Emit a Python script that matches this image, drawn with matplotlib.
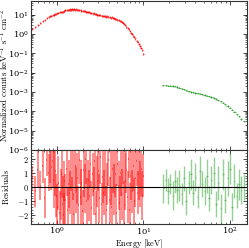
import numpy as np
import matplotlib
matplotlib.use('Agg')
import matplotlib.pyplot as plt

plt.rcParams['mathtext.fontset'] = 'cm'
plt.rcParams['font.family'] = 'serif'

# Espectro rojo (0.5-10 keV)
red_E = [0.52, 0.56, 0.60, 0.64, 0.68, 0.72, 0.76, 0.80, 0.83, 0.86, 0.89, 0.92, 0.95, 0.98,
         1.01, 1.04, 1.07, 1.10, 1.13, 1.16, 1.19, 1.22, 1.25, 1.29, 1.33, 1.37, 1.41, 1.45, 1.49,
         1.53, 1.57, 1.62, 1.67, 1.72, 1.77, 1.82, 1.87, 1.92, 1.98, 2.04, 2.10, 2.16, 2.22, 2.29,
         2.36, 2.43, 2.50, 2.58, 2.66, 2.74, 2.82, 2.91, 3.00, 3.09, 3.18, 3.28, 3.38, 3.48, 3.59,
         3.70, 3.81, 3.93, 4.05, 4.17, 4.30, 4.43, 4.57, 4.71, 4.85, 5.00, 5.15, 5.31, 5.47, 5.64,
         5.81, 5.99, 6.17, 6.36, 6.55, 6.75, 6.96, 7.17, 7.39, 7.62, 7.85, 8.09, 8.34, 8.60, 8.86,
         9.13, 9.41, 9.70, 9.95]
red_flux = [1.75, 2.3, 2.9, 3.6, 4.5, 5.3, 6.4, 7.2, 8.1, 8.6, 9.6, 9.8, 10.9, 11.1,
            11.9, 12.2, 13.3, 13.4, 14.3, 14.2, 15.4, 15.1, 16.3, 16.5, 17.4, 17.0, 18.3, 17.8, 18.8,
            18.2, 18.9, 18.1, 18.6, 17.4, 17.9, 16.6, 17.0, 15.8, 16.0, 14.9, 15.0, 13.8, 14.0, 13.0,
            13.1, 12.2, 12.3, 11.3, 11.4, 10.5, 10.6, 9.8, 10.0, 9.2, 9.4, 8.7, 8.9, 8.2, 8.4,
            7.8, 8.0, 7.4, 7.5, 6.9, 7.1, 6.5, 6.6, 6.0, 6.0, 5.4, 5.3, 4.8, 4.6, 4.0,
            3.8, 3.2, 2.9, 2.4, 2.0, 1.7, 1.4, 1.15, 0.95, 0.82, 0.66, 0.58, 0.45, 0.40, 0.30,
            0.25, 0.18, 0.14, 0.095]
red_res = [0.6, -0.3, 1.2, 0.1, 1.5, -0.8, 1.9, 1.0, 2.2, 1.4, 1.8, 0.5, 1.1, -0.6,
           -1.4, 0.3, -1.8, -0.5, 0.9, -1.2, -2.0, 0.4, -0.9, 1.3, -1.6, 0.2, -0.4, 1.7, -1.1,
           0.8, -1.9, 1.5, -0.2, 0.6, -1.3, 1.9, -0.7, 0.3, -1.7, 1.2, -0.1, 2.0, -1.0, 0.5,
           -0.6, 1.6, -1.5, 0.9, -0.3, 1.8, -1.9, 0.4, 1.1, -0.8, 2.1, -1.2, 0.7, -0.4, 1.4,
           -1.6, 0.2, 1.9, -0.9, 0.6, -1.4, 1.3, -0.2, 0.9, -1.8, 1.6, 0.1, -1.1, 1.0, -0.5,
           1.7, -1.3, 0.4, 1.2, -0.7, 2.0, -1.6, 0.8, -0.3, 1.5, -1.0, 0.6, 1.8, -0.4, 0.9,
           0.2, 1.3, -0.6, 0.8]
red_res_err = [0.9, 1.1, 1.3, 1.0, 1.2, 1.4, 1.1, 1.3, 1.9, 1.6, 1.8, 2.0, 1.7, 1.5,
               1.6, 1.9, 1.5, 1.8, 1.7, 2.0, 1.6, 1.4, 1.8, 1.9, 1.6, 1.7, 1.5, 2.0, 1.8,
               1.7, 1.5, 1.9, 1.6, 1.8, 1.4, 1.7, 2.0, 1.6, 1.5, 1.9, 1.7, 1.8, 1.6, 1.4,
               1.8, 1.6, 1.9, 1.5, 1.7, 2.0, 1.6, 1.8, 1.4, 1.7, 1.9, 1.5, 1.8, 1.6, 2.0,
               1.7, 1.5, 1.8, 1.6, 1.9, 1.4, 1.7, 1.8, 1.6, 2.0, 1.5, 1.7, 1.9, 1.6, 1.8,
               1.5, 1.7, 2.0, 1.6, 1.8, 1.4, 1.9, 1.7, 1.5, 1.8, 1.6, 2.0, 1.7, 1.5, 1.8,
               1.6, 1.9, 1.7, 1.5]

# Espectro verde (17-145 keV)
green_E = [17.0, 18.1, 19.2, 20.4, 21.7, 23.1, 24.5, 26.1, 27.7, 29.5, 31.3, 33.3, 35.4, 37.6,
           40.0, 42.5, 45.2, 48.0, 51.0, 54.3, 57.7, 61.3, 65.2, 69.3, 73.6, 78.3, 83.2, 88.4,
           94.0, 99.9, 106.0, 113.0, 120.0, 128.0, 136.0, 145.0]
green_flux = [2.2e-3, 2.2e-3, 2.15e-3, 2.15e-3, 2.05e-3, 1.95e-3, 1.8e-3, 1.65e-3, 1.5e-3, 1.35e-3,
              1.22e-3, 1.1e-3, 1.0e-3, 9.4e-4, 8.9e-4, 8.4e-4, 8.0e-4, 7.5e-4, 7.0e-4, 6.5e-4,
              6.0e-4, 5.5e-4, 4.9e-4, 4.3e-4, 3.8e-4, 3.3e-4, 2.8e-4, 2.3e-4, 1.9e-4, 1.55e-4,
              1.2e-4, 9.5e-5, 7.2e-5, 5.5e-5, 4.0e-5, 3.0e-5]
green_res = [-0.1, 0.5, -0.3, 0.2, -0.6, 0.4, -0.2, 0.1, -0.5, 0.6, -1.0, 0.3, 0.9, -0.4,
             0.7, -0.7, 1.1, 0.2, -0.3, 0.8, -0.8, 0.5, 1.0, -1.2, 0.3, -1.5, 0.9, -0.9,
             0.6, 1.3, -1.4, 0.4, -0.6, 0.2, -0.2, 0.0]
green_res_err = [1.0, 0.8, 0.9, 0.7, 1.0, 0.8, 0.9, 1.1, 0.8, 0.9, 1.0, 0.8, 1.1, 0.9,
                 1.0, 0.8, 1.1, 0.9, 1.0, 1.2, 0.9, 1.0, 1.1, 0.9, 1.2, 1.0, 1.1, 0.9,
                 1.2, 1.1, 1.0, 1.2, 0.9, 1.1, 1.0, 0.9]

red_E = np.array(red_E)
green_E = np.array(green_E)

fig = plt.figure(figsize=(2.49, 2.48), dpi=100)
ax1 = fig.add_axes([0.1245, 0.395, 0.8675, 0.601])
ax2 = fig.add_axes([0.1245, 0.097, 0.8675, 0.298], sharex=ax1)

# Panel superior
ax1.errorbar(red_E, red_flux, xerr=red_E * 0.018, yerr=np.array(red_flux) * 0.12,
             fmt='none', ecolor='red', elinewidth=0.8, alpha=0.75)
ax1.errorbar(green_E, green_flux, xerr=green_E * 0.03, yerr=np.array(green_flux) * 0.07,
             fmt='none', ecolor='#2ca02c', elinewidth=0.8, alpha=0.85)
ax1.set_xscale('log')
ax1.set_yscale('log')
ax1.set_xlim(0.5, 158)
ax1.set_ylim(1e-6, 50)
ax1.set_ylabel(r'$\mathrm{Normalized\ counts\ keV^{-1}\ s^{-1}\ cm^{-2}}$', fontsize=6.2)
ax1.yaxis.set_label_coords(-0.093, 0.5)
ax1.tick_params(labelbottom=False)

# Panel de residuos
ax2.errorbar(red_E, red_res, xerr=red_E * 0.012, yerr=red_res_err,
             fmt='none', ecolor='red', elinewidth=1.4, alpha=0.45)
ax2.errorbar(green_E, green_res, xerr=green_E * 0.02, yerr=green_res_err,
             fmt='none', ecolor='#2ca02c', elinewidth=1.0, alpha=0.5)
ax2.axhline(0, color='k', lw=0.8)
ax2.set_ylim(-2.6, 2.6)
ax2.set_yticks([-2, -1, 0, 1, 2])
ax2.set_yticklabels([r'$-2$', r'$-1$', r'$0$', r'$1$', r'$2$'])
ax2.set_ylabel(r'$\mathrm{Residuals}$', fontsize=6.0)
ax2.yaxis.set_label_coords(-0.093, 0.5)
ax2.set_xlabel(r'$\mathrm{Energy\ [keV]}$', fontsize=6.0, labelpad=0.5)

for ax in (ax1, ax2):
    ax.tick_params(which='both', direction='in', top=True, right=True, labelsize=6.0, pad=1.5)
    ax.tick_params(which='major', length=3, width=0.5)
    ax.tick_params(which='minor', length=1.5, width=0.4)
    for s in ax.spines.values():
        s.set_linewidth(0.8)
        s.set_color('#333333')
ax2.minorticks_on()

fig.savefig('out.png', dpi=100)
